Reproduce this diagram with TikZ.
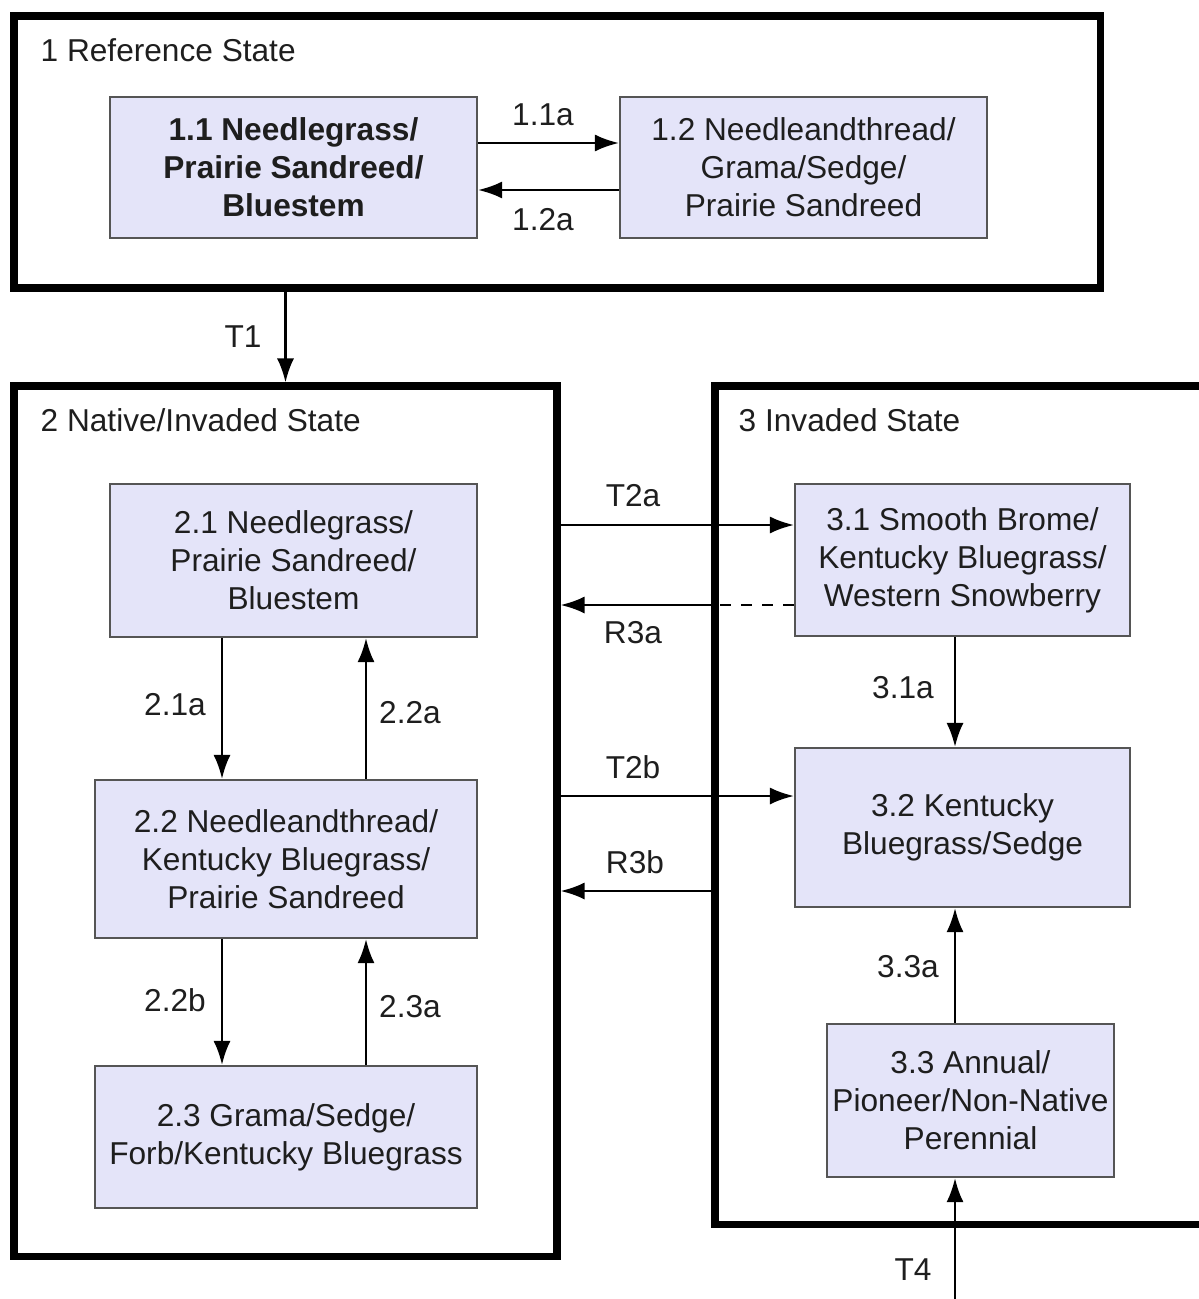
\documentclass[tikz,border=0pt]{standalone}
\usepackage{fontspec}
\setmainfont{Liberation Sans}
\usepackage{xcolor}
\usetikzlibrary{
	arrows.meta,
	positioning,
	calc
}
\definecolor{boxfill}{RGB}{228,228,249}
\definecolor{boxline}{RGB}{85,85,85}
\definecolor{txt}{RGB}{30,30,30}

\begin{document}
\begin{tikzpicture}[>={Latex[length=2.4mm,width=1.7mm]},
		every node/.style={font=\fontsize{9}{10.8}\selectfont, text=txt},
		phase/.style={draw=boxline, line width=0.6pt, fill=boxfill, align=center, inner sep=0pt},
		statebox/.style={draw, line width=2pt, inner sep=0pt},
		trans/.style={->, line width=0.7pt},
		title/.style={anchor=west, inner sep=0pt}]
		
		\useasboundingbox (0,0) rectangle (11.99,-12.99);
		\clip (0,0) rectangle (11.99,-12.99);
		
		% states
		\node[statebox, minimum width=10.86cm, minimum height=2.72cm] (state1) at (5.57,-1.52) {};
		\node[statebox, minimum width=5.43cm, minimum height=8.70cm] (state2) at (2.855,-8.21) {};
		\node[statebox, minimum width=5.2cm, minimum height=8.38cm] (state3) at (9.75,-8.05) {};
		\node[title] (name1) at (0.40,-0.50) {1 Reference State};
		\node[title] (name2) at (0.40,-4.20) {2 Native/Invaded State};
		\node[title] (name3) at (7.38,-4.20) {3 Invaded State};
		
		% reference state
		\node[phase, minimum width=3.67cm, minimum height=1.41cm, font=\bfseries\fontsize{9}{10.8}\selectfont] (p11) at (2.935,-1.675) {1.1 Needlegrass/\\Prairie Sandreed/\\Bluestem};
		\node[phase, minimum width=3.67cm, minimum height=1.41cm] (p12) at (8.035,-1.675) {1.2 Needleandthread/\\Grama/Sedge/\\Prairie Sandreed};
		
		\draw[trans] ([yshift=2.45mm]p11.east) -- ([yshift=2.45mm]p11.east -| p12.west);
		\draw[trans] ([yshift=-2.25mm]p12.west) -- ([yshift=-2.25mm]p12.west -| p11.east);
		\node (l11a) at (5.43,-1.15) {1.1a};
		\node (l12a) at (5.43,-2.20) {1.2a};
		
		\draw[trans] (state1.south -| state2.north) -- (state2.north);
		\node (lt1) at (2.43,-3.37) {T1};
		
		% native/invaded state
		\node[phase, minimum width=3.67cm, minimum height=1.53cm] (p21) at (2.935,-5.605) {2.1 Needlegrass/\\Prairie Sandreed/\\Bluestem};
		\node[phase, minimum width=3.82cm, minimum height=1.58cm] (p22) at (2.86,-8.59) {2.2 Needleandthread/\\Kentucky Bluegrass/\\Prairie Sandreed};
		\node[phase, minimum width=3.82cm, minimum height=1.42cm] (p23) at (2.86,-11.37) {2.3 Grama/Sedge/\\Forb/Kentucky Bluegrass};
		
		\draw[trans] ([xshift=-7.15mm]p21.south) -- ([xshift=-7.15mm]p21.south |- p22.north);
		\draw[trans] ([xshift=7.25mm]p21.south |- p22.north) -- ([xshift=7.25mm]p21.south);
		\draw[trans] ([xshift=-6.4mm]p22.south) -- ([xshift=-6.4mm]p22.south |- p23.north);
		\draw[trans] ([xshift=8mm]p22.south |- p23.north) -- ([xshift=8mm]p22.south);
		\node (l21a) at (1.75,-7.05) {2.1a};
		\node (l22a) at (4.10,-7.13) {2.2a};
		\node (l22b) at (1.75,-10.00) {2.2b};
		\node (l23a) at (4.10,-10.07) {2.3a};
		
		% invaded state
		\node[phase, minimum width=3.35cm, minimum height=1.52cm] (p31) at (9.625,-5.60) {3.1 Smooth Brome/\\Kentucky Bluegrass/\\Western Snowberry};
		\node[phase, minimum width=3.35cm, minimum height=1.59cm] (p32) at (9.625,-8.275) {3.2 Kentucky\\Bluegrass/Sedge};
		\node[phase, minimum width=2.87cm, minimum height=1.53cm] (p33) at (9.705,-11.005) {3.3 Annual/\\Pioneer/Non-Native\\Perennial};
		
		\draw[trans] ([xshift=-0.75mm]p31.south) -- ([xshift=-0.75mm]p31.south |- p32.north);
		\draw[trans] ([xshift=-1.55mm]p33.north) -- ([xshift=-1.55mm]p33.north |- p32.south);
		\node (l31a) at (9.03,-6.88) {3.1a};
		\node (l33a) at (9.08,-9.67) {3.3a};
		
		\coordinate (t4src) at (9.55,-13.2);
		\draw[trans] (t4src) -- (t4src |- p33.south);
		\node (lt4) at (9.13,-12.70) {T4};
		
		% between states 2 and 3
		\draw[trans] ([yshift=3.5mm]p31.west -| state2.east) -- ([yshift=3.5mm]p31.west);
		\draw[dashed, line width=0.7pt] ([yshift=-4.5mm]p31.west) -- ([yshift=-4.5mm]p31.west -| state3.west);
		\draw[trans] ([yshift=-4.5mm]p31.west -| state3.west) -- ([yshift=-4.5mm]p31.west -| state2.east);
		\draw[trans] ([yshift=3.15mm]p32.west -| state2.east) -- ([yshift=3.15mm]p32.west);
		\draw[trans] ([yshift=-6.35mm]p32.west -| state3.west) -- ([yshift=-6.35mm]p32.west -| state2.east);
		\node (lt2a) at (6.33,-4.96) {T2a};
		\node (lr3a) at (6.33,-6.33) {R3a};
		\node (lt2b) at (6.33,-7.67) {T2b};
		\node (lr3b) at (6.35,-8.62) {R3b};
		
	\end{tikzpicture}
\end{document}
